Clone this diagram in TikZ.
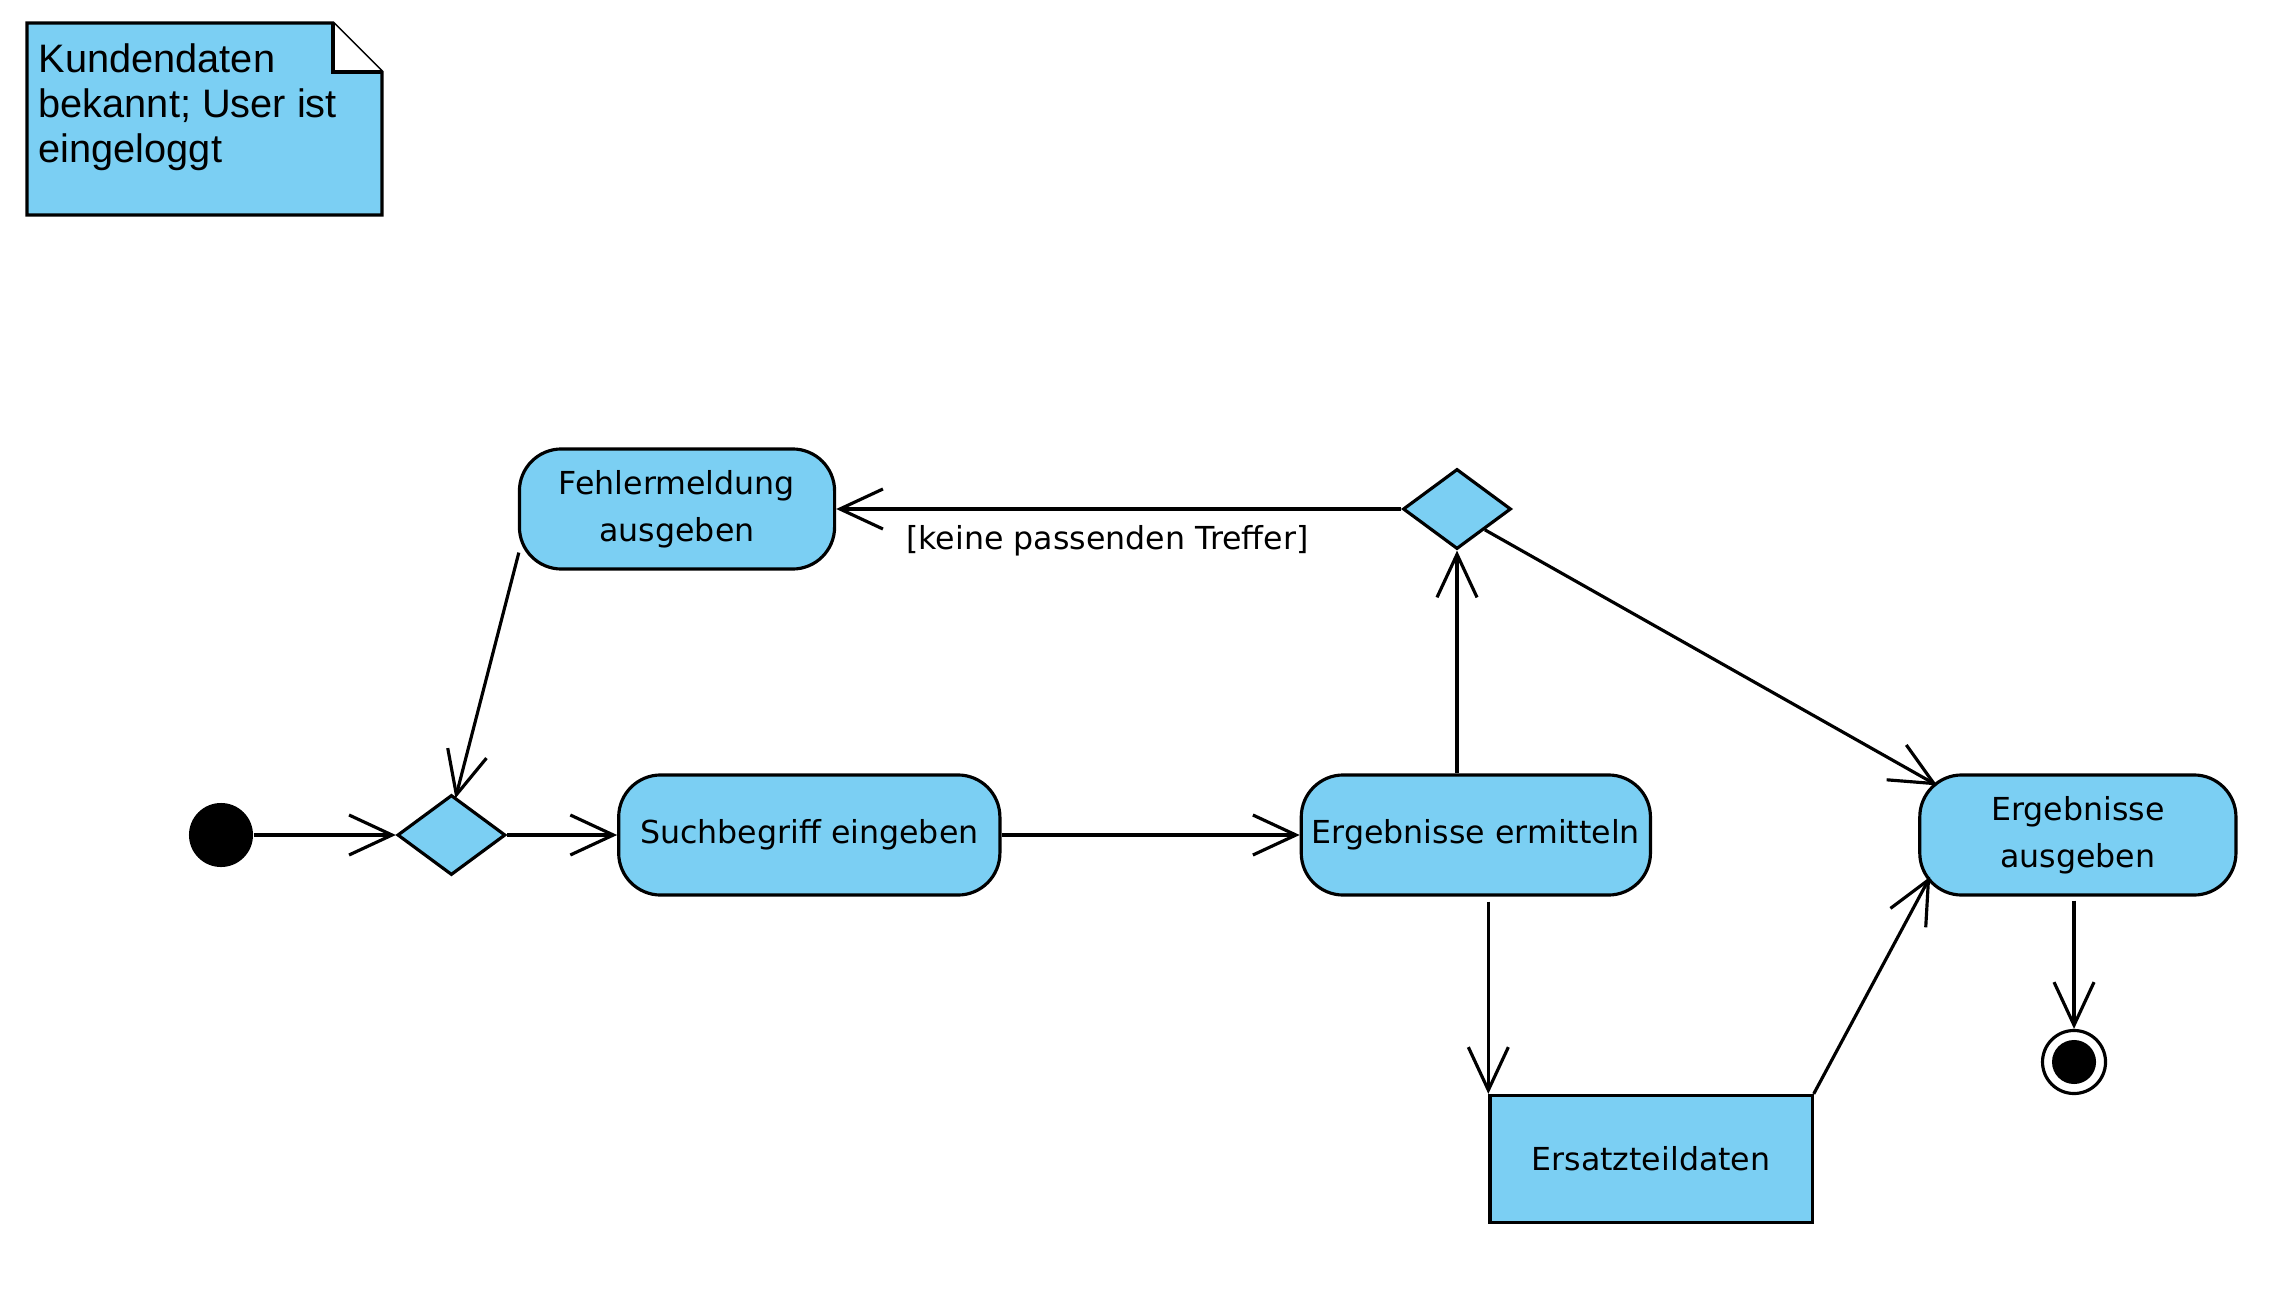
\documentclass[tikz,border=0pt]{standalone}
\usepackage{fontspec}
\newfontfamily\umlfont{DejaVu Sans}
\newfontfamily\notefont{Liberation Sans}
\usepackage{xcolor}
\definecolor{actblue}{RGB}{123,207,243}
\usepackage{tikz}
\usetikzlibrary{arrows.meta,positioning,shapes.geometric}

\begin{document}
\begin{tikzpicture}[x=0.01cm, y=-0.01cm,
      act/.style={draw, fill=actblue, rounded corners=0.42cm, line width=0.9pt,
                  minimum height=1.2cm, inner sep=0pt,
                  font=\umlfont\fontsize{9}{13.3}\selectfont, align=center},
      obj/.style={draw, fill=actblue, line width=0.9pt,
                  minimum width=3.22cm, minimum height=1.27cm,
                  font=\umlfont\fontsize{9}{13.3}\selectfont},
      dec/.style={diamond, draw, fill=actblue, line width=0.9pt,
                  minimum width=1.08cm, minimum height=0.8cm, inner sep=0pt},
      start/.style={circle, fill=black, minimum size=0.64cm, inner sep=0pt},
      stopout/.style={circle, draw, fill=white, line width=0.9pt,
                  minimum size=0.63cm, inner sep=0pt},
      stopin/.style={circle, fill=black, minimum size=0.44cm, inner sep=0pt},
      notetxt/.style={font=\notefont\fontsize{11.3}{12.8}\selectfont,
                  align=left, inner sep=0pt},
      arr/.style={-{Straight Barb[length=0.43cm, width=0.4cm]}, line width=0.9pt}
  ]
    \useasboundingbox (0,0) rectangle (2280,1316);

    % note
    \filldraw[fill=actblue, line width=0.9pt] (27,23) -- (333,23) -- (382,72)
      -- (382,215) -- (27,215) -- cycle;
    \filldraw[fill=white, line width=0.9pt] (333,23) -- (333,72) -- (382,72);
    \node[notetxt, anchor=north west] (note) at (38,43)
      {Kundendaten\\bekannt; User ist\\eingeloggt};

    % main row
    \node[start] (init) at (221,835) {};
    \node[dec, right=1.42cm of init] (dec1) {};
    \node[act, minimum width=3.81cm, right=1.1cm of dec1] (such) {Suchbegriff eingeben};
    \node[act, minimum width=3.49cm, right=2.98cm of such] (ermit) {Ergebnisse ermitteln};
    \node[act, minimum width=3.16cm, right=2.66cm of ermit] (ausg) {Ergebnisse\\ausgeben};

    \node[act, minimum width=3.15cm] (fehler) at (677,509) {Fehlermeldung\\ausgeben};
    \node[dec] (dec2) at (1457,509) {};
    \node[obj] (ersatz) at (1651,1159) {Ersatzteildaten};
    \node[stopout] (final) at (2074,1062) {};
    \node[stopin] (finalin) at (final) {};

    \draw[arr] (init)--(dec1.west);
    \draw[arr] (dec1.east)--(such.west);
    \draw[arr] (such.east)--(ermit.west);
    \draw[arr] (dec2.south |- ermit.north)--(dec2.south);
    \draw[arr] (dec2.west)--(fehler.east)
      node[below=1pt, pos=0.52, font=\umlfont\fontsize{9}{11}\selectfont] {[keine passenden Treffer]};
    \draw[arr] ([shift={(1,-18)}]fehler.south west)--([shift={(4,5)}]dec1.north);
    \draw[arr] (dec2.south east)--([shift={(19,12)}]ausg.north west);
    \draw[arr] ([yshift=-0.05cm]ersatz.north west |- ermit.south)--(ersatz.north west);
    \draw[arr] (ersatz.north east)--([shift={(12,-20)}]ausg.south west);
    \draw[arr] ([yshift=-0.04cm]final |- ausg.south)--(final);
  \end{tikzpicture}
\end{document}
